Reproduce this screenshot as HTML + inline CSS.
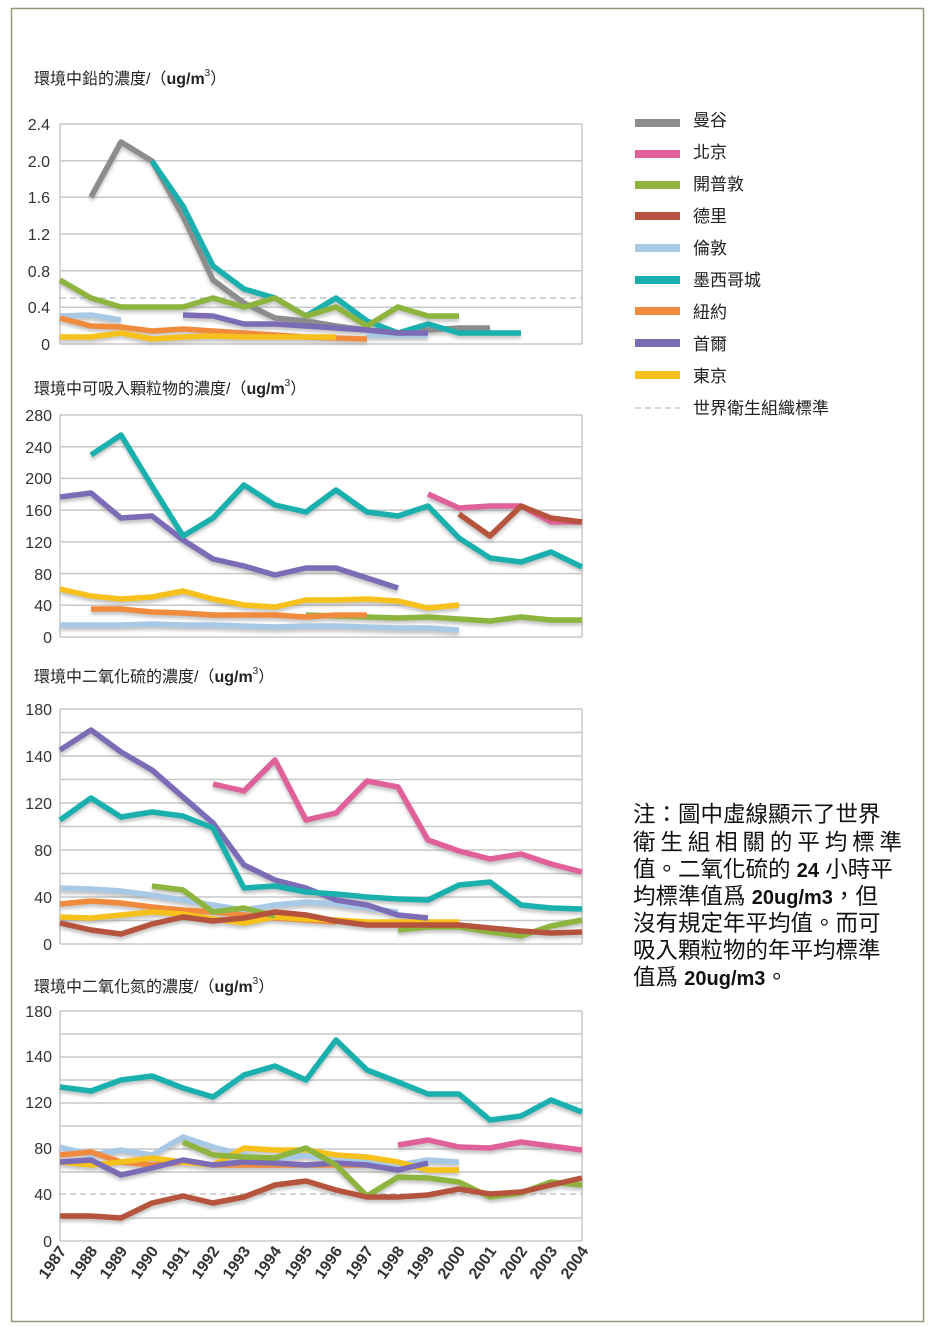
<!DOCTYPE html>
<html><head><meta charset="utf-8"><style>
body{margin:0;background:#fff;}
svg{display:block;font-family:"Liberation Sans","Noto Sans CJK TC",sans-serif;}
.t{font-size:16px;fill:#222;}
.ax{font-family:"Liberation Sans Narrow","Liberation Sans",sans-serif;font-size:16px;fill:#333;}
.grid line{stroke:#c8c8c8;stroke-width:1.5}
.s polyline{fill:none;stroke-width:5.5;stroke-linejoin:round;stroke-linecap:butt}
.s{filter:drop-shadow(0px 3px 1.5px rgba(150,150,150,0.55));}
.lg{font-size:17px;fill:#222;}
.note{font-size:22.5px;fill:#111;}
</style></head><body>
<svg width="930" height="1332" viewBox="0 0 930 1332">
<rect x="11.5" y="8.5" width="912" height="1313" fill="#fff" stroke="#8f9a78" stroke-width="1.5"/>

<!-- Titles -->
<text class="t" x="34" y="84">環境中鉛的濃度/（<tspan font-weight="bold">ug/m</tspan><tspan font-size="10" dy="-8">3</tspan><tspan dy="8">）</tspan></text>
<text class="t" x="34" y="394">環境中可吸入顆粒物的濃度/（<tspan font-weight="bold">ug/m</tspan><tspan font-size="10" dy="-8">3</tspan><tspan dy="8">）</tspan></text>
<text class="t" x="34" y="682">環境中二氧化硫的濃度/（<tspan font-weight="bold">ug/m</tspan><tspan font-size="10" dy="-8">3</tspan><tspan dy="8">）</tspan></text>
<text class="t" x="34" y="992">環境中二氧化氮的濃度/（<tspan font-weight="bold">ug/m</tspan><tspan font-size="10" dy="-8">3</tspan><tspan dy="8">）</tspan></text>

<!-- Chart 1 grid -->
<g class="grid">
<line x1="60" y1="124" x2="582" y2="124"/><line x1="60" y1="160.7" x2="582" y2="160.7"/><line x1="60" y1="197.3" x2="582" y2="197.3"/><line x1="60" y1="234" x2="582" y2="234"/><line x1="60" y1="270.7" x2="582" y2="270.7"/><line x1="60" y1="307.3" x2="582" y2="307.3"/><line x1="60" y1="344" x2="582" y2="344"/>
<line x1="60" y1="124" x2="60" y2="344"/><line x1="582" y1="124" x2="582" y2="344"/>
</g>
<line x1="60" y1="298" x2="582" y2="298" stroke="#bbb" stroke-width="1.2" stroke-dasharray="6,4"/>
<g class="ax" text-anchor="end">
<text x="50" y="130">2.4</text><text x="50" y="167">2.0</text><text x="50" y="203">1.6</text><text x="50" y="240">1.2</text><text x="50" y="277">0.8</text><text x="50" y="313">0.4</text><text x="50" y="350">0</text>
</g>
<g class="s">
<polyline stroke="#a8c9e6" points="60,316 91,315 121,320"/>
<polyline stroke="#a8c9e6" points="367,335 398,335 428,335"/>
<polyline stroke="#8c8c8c" points="91,197 121,142 152,161 183,216 213,280 244,303 275,318 306,321 336,326 367,330 398,333 428,330 459,328 490,328"/>
<polyline stroke="#19b0ae" points="152,161 183,206 213,266 244,289 275,298 306,316 336,298 367,321 398,333 428,324 459,333 490,333 521,333"/>
<polyline stroke="#8db43e" points="60,280 91,298 121,307 152,307 183,307 213,298 244,307 275,298 306,316 336,307 367,326 398,307 428,316 459,316"/>
<polyline stroke="#f08a3c" points="60,318 91,326 121,327 152,331 183,329 213,331 244,333 275,335 306,337 336,338 367,339"/>
<polyline stroke="#7b6cb5" points="183,315 213,316 244,324 275,324 306,326 336,328 367,330 398,333 428,333"/>
<polyline stroke="#f5c11a" points="60,337 91,337 121,333 152,339 183,337 213,336 244,337 275,337 306,337 336,337"/>
</g>

<!-- Chart 2 -->
<g class="grid">
<line x1="60" y1="415" x2="582" y2="415"/><line x1="60" y1="446.7" x2="582" y2="446.7"/><line x1="60" y1="478.4" x2="582" y2="478.4"/><line x1="60" y1="510.1" x2="582" y2="510.1"/><line x1="60" y1="541.9" x2="582" y2="541.9"/><line x1="60" y1="573.6" x2="582" y2="573.6"/><line x1="60" y1="605.3" x2="582" y2="605.3"/><line x1="60" y1="637" x2="582" y2="637"/>
<line x1="60" y1="415" x2="60" y2="637"/><line x1="582" y1="415" x2="582" y2="637"/>
</g>
<g class="ax" text-anchor="end">
<text x="52" y="421">280</text><text x="52" y="453">240</text><text x="52" y="484">200</text><text x="52" y="516">160</text><text x="52" y="548">120</text><text x="52" y="580">80</text><text x="52" y="611">40</text><text x="52" y="643">0</text>
</g>
<g class="s">
<polyline stroke="#a8c9e6" points="60,625 91,625 121,625 152,624 183,625 213,625 244,626 275,627 306,626 336,626 367,627 398,628 428,628 459,630"/>
<polyline stroke="#8db43e" points="306,615 336,616 367,617 398,618 428,617 459,619 490,621 521,617 551,620 582,620"/>
<polyline stroke="#f08a3c" points="91,609 121,609 152,612 183,613 213,615 244,615 275,615 306,617 336,615 367,615"/>
<polyline stroke="#f5c11a" points="60,589 91,596 121,599 152,597 183,591 213,599 244,605 275,607 306,600 336,600 367,599 398,601 428,608 459,605"/>
<polyline stroke="#7b6cb5" points="60,497 91,493 121,518 152,516 183,540 213,559 244,566 275,575 306,568 336,568 367,578 398,588"/>
<polyline stroke="#19b0ae" points="91,455 121,435 152,486 183,536 213,518 244,485 275,505 306,512 336,490 367,512 398,516 428,506 459,538 490,558 521,562 551,552 582,567"/>
<polyline stroke="#e0609a" points="428,494 459,508 490,506 521,506 551,522 582,522"/>
<polyline stroke="#b5533c" points="459,514 490,536 521,506 551,518 582,522"/>
</g>

<!-- Chart 3 -->
<g class="grid">
<line x1="60" y1="709" x2="582" y2="709"/><line x1="60" y1="732.5" x2="582" y2="732.5"/><line x1="60" y1="756" x2="582" y2="756"/><line x1="60" y1="779.5" x2="582" y2="779.5"/><line x1="60" y1="803" x2="582" y2="803"/><line x1="60" y1="826.5" x2="582" y2="826.5"/><line x1="60" y1="850" x2="582" y2="850"/><line x1="60" y1="873.5" x2="582" y2="873.5"/><line x1="60" y1="897" x2="582" y2="897"/><line x1="60" y1="920.5" x2="582" y2="920.5"/><line x1="60" y1="944" x2="582" y2="944"/>
<line x1="60" y1="709" x2="60" y2="944"/><line x1="582" y1="709" x2="582" y2="944"/>
</g>
<g class="ax" text-anchor="end">
<text x="52" y="715">180</text><text x="52" y="762">140</text><text x="52" y="809">120</text><text x="52" y="856">80</text><text x="52" y="903">40</text><text x="52" y="950">0</text>
</g>
<g class="s">
<polyline stroke="#a8c9e6" points="60,888 91,889 121,891 152,895 183,900 213,905 244,910 275,905 306,902 336,904 367,908 398,912"/>
<polyline stroke="#f08a3c" points="60,904 91,901 121,903 152,907 183,910 213,912 244,915 275,918 306,920 336,922"/>
<polyline stroke="#f5c11a" points="60,917 91,918 121,915 152,912 183,914 213,919 244,923 275,917 306,919 336,920 367,922 398,922 428,922 459,922"/>
<polyline stroke="#8db43e" points="152,886 183,890 213,912 244,908 275,916"/>
<polyline stroke="#8db43e" points="398,930 428,927 459,927 490,932 521,936 551,926 582,920"/>
<polyline stroke="#7b6cb5" points="60,750 91,730 121,752 152,770 183,797 213,823 244,865 275,880 306,888 336,900 367,905 398,915 428,918"/>
<polyline stroke="#19b0ae" points="60,820 91,798 121,817 152,812 183,816 213,828 244,888 275,886 306,892 336,894 367,897 398,899 428,900 459,885 490,882 521,905 551,908 582,909"/>
<polyline stroke="#e0609a" points="213,784 244,791 275,760 306,820 336,813 367,781 398,787 428,840 459,851 490,859 521,854 551,864 582,872"/>
<polyline stroke="#b5533c" points="60,923 91,930 121,934 152,924 183,917 213,921 244,918 275,912 306,915 336,921 367,925 398,925 428,925 459,925 490,928 521,931 551,933 582,932"/>
</g>

<!-- Chart 4 -->
<g class="grid">
<line x1="60" y1="1011" x2="582" y2="1011"/><line x1="60" y1="1034" x2="582" y2="1034"/><line x1="60" y1="1057" x2="582" y2="1057"/><line x1="60" y1="1080" x2="582" y2="1080"/><line x1="60" y1="1103" x2="582" y2="1103"/><line x1="60" y1="1126" x2="582" y2="1126"/><line x1="60" y1="1149" x2="582" y2="1149"/><line x1="60" y1="1172" x2="582" y2="1172"/><line x1="60" y1="1218" x2="582" y2="1218"/><line x1="60" y1="1241" x2="582" y2="1241"/>
<line x1="60" y1="1011" x2="60" y2="1241"/><line x1="582" y1="1011" x2="582" y2="1241"/>
</g>
<line x1="60" y1="1194" x2="582" y2="1194" stroke="#bbb" stroke-width="1.2" stroke-dasharray="6,4"/>
<g class="ax" text-anchor="end">
<text x="52" y="1017">180</text><text x="52" y="1062">140</text><text x="52" y="1108">120</text><text x="52" y="1154">80</text><text x="52" y="1200">40</text><text x="52" y="1247">0</text>
</g>
<g class="s">
<polyline stroke="#a8c9e6" points="60,1147 91,1155 121,1150 152,1155 183,1137 213,1147 244,1155 275,1160 306,1155 336,1160 367,1160 398,1165 428,1160 459,1162"/>
<polyline stroke="#f08a3c" points="60,1155 91,1152 121,1162 152,1165 183,1162 213,1165 244,1165 275,1165 306,1165 336,1165 367,1165"/>
<polyline stroke="#f5c11a" points="60,1162 91,1165 121,1162 152,1158 183,1162 213,1165 244,1148 275,1150 306,1150 336,1155 367,1157 398,1162 428,1170 459,1170"/>
<polyline stroke="#7b6cb5" points="60,1162 91,1160 121,1175 152,1168 183,1160 213,1165 244,1162 275,1163 306,1165 336,1163 367,1165 398,1170 428,1163"/>
<polyline stroke="#8db43e" points="183,1142 213,1155 244,1157 275,1158 306,1148 336,1165 367,1196 398,1177 428,1178 459,1182 490,1197 521,1193 551,1182 582,1185"/>
<polyline stroke="#e0609a" points="398,1145 428,1140 459,1147 490,1148 521,1142 551,1146 582,1150"/>
<polyline stroke="#19b0ae" points="60,1087 91,1091 121,1080 152,1076 183,1088 213,1097 244,1075 275,1066 306,1080 336,1040 367,1070 398,1082 428,1094 459,1094 490,1120 521,1116 551,1100 582,1112"/>
<polyline stroke="#b5533c" points="60,1216 91,1216 121,1218 152,1203 183,1196 213,1203 244,1197 275,1185 306,1181 336,1190 367,1197 398,1197 428,1195 459,1189 490,1194 521,1192 551,1185 582,1178"/>
</g>
<g class="ax" font-size="18" font-weight="bold" text-anchor="end">
<text transform="translate(67,1251) rotate(-55)">1987</text>
<text transform="translate(98,1251) rotate(-55)">1988</text>
<text transform="translate(128,1251) rotate(-55)">1989</text>
<text transform="translate(159,1251) rotate(-55)">1990</text>
<text transform="translate(190,1251) rotate(-55)">1991</text>
<text transform="translate(220,1251) rotate(-55)">1992</text>
<text transform="translate(251,1251) rotate(-55)">1993</text>
<text transform="translate(282,1251) rotate(-55)">1994</text>
<text transform="translate(313,1251) rotate(-55)">1995</text>
<text transform="translate(343,1251) rotate(-55)">1996</text>
<text transform="translate(374,1251) rotate(-55)">1997</text>
<text transform="translate(405,1251) rotate(-55)">1998</text>
<text transform="translate(435,1251) rotate(-55)">1999</text>
<text transform="translate(466,1251) rotate(-55)">2000</text>
<text transform="translate(497,1251) rotate(-55)">2001</text>
<text transform="translate(528,1251) rotate(-55)">2002</text>
<text transform="translate(558,1251) rotate(-55)">2003</text>
<text transform="translate(589,1251) rotate(-55)">2004</text>
</g>

<!-- Legend -->
<g>
<rect x="635" y="119" width="45" height="8" fill="#8c8c8c"/><text class="lg" x="693" y="126">曼谷</text>
<rect x="635" y="150" width="45" height="8" fill="#e0609a"/><text class="lg" x="693" y="158">北京</text>
<rect x="635" y="181" width="45" height="8" fill="#8db43e"/><text class="lg" x="693" y="190">開普敦</text>
<rect x="635" y="212" width="45" height="8" fill="#b5533c"/><text class="lg" x="693" y="222">德里</text>
<rect x="635" y="244" width="45" height="8" fill="#a8c9e6"/><text class="lg" x="693" y="254">倫敦</text>
<rect x="635" y="276" width="45" height="8" fill="#19b0ae"/><text class="lg" x="693" y="286">墨西哥城</text>
<rect x="635" y="307" width="45" height="8" fill="#f08a3c"/><text class="lg" x="693" y="318">紐約</text>
<rect x="635" y="339" width="45" height="8" fill="#7b6cb5"/><text class="lg" x="693" y="350">首爾</text>
<rect x="635" y="371" width="45" height="8" fill="#f5c11a"/><text class="lg" x="693" y="382">東京</text>
<line x1="635" y1="408" x2="680" y2="408" stroke="#bbb" stroke-width="1.2" stroke-dasharray="6,4"/><text class="lg" x="693" y="414">世界衛生組織標準</text>
</g>

<!-- Note -->
<g class="note">
<text x="633" y="822">注：圖中虛線顯示了世界</text>
<text x="633" y="850" textLength="269" lengthAdjust="spacing">衛生組相關的平均標準</text>
<text x="633" y="877">值。二氧化硫的 <tspan font-weight="bold" font-size="20">24</tspan> 小時平</text>
<text x="633" y="904">均標準值爲 <tspan font-weight="bold" font-size="20">20ug/m3</tspan>，但</text>
<text x="633" y="931">沒有規定年平均值。而可</text>
<text x="633" y="958">吸入顆粒物的年平均標準</text>
<text x="633" y="985">值爲 <tspan font-weight="bold" font-size="20">20ug/m3</tspan>。</text>
</g>
</svg>
</body></html>
